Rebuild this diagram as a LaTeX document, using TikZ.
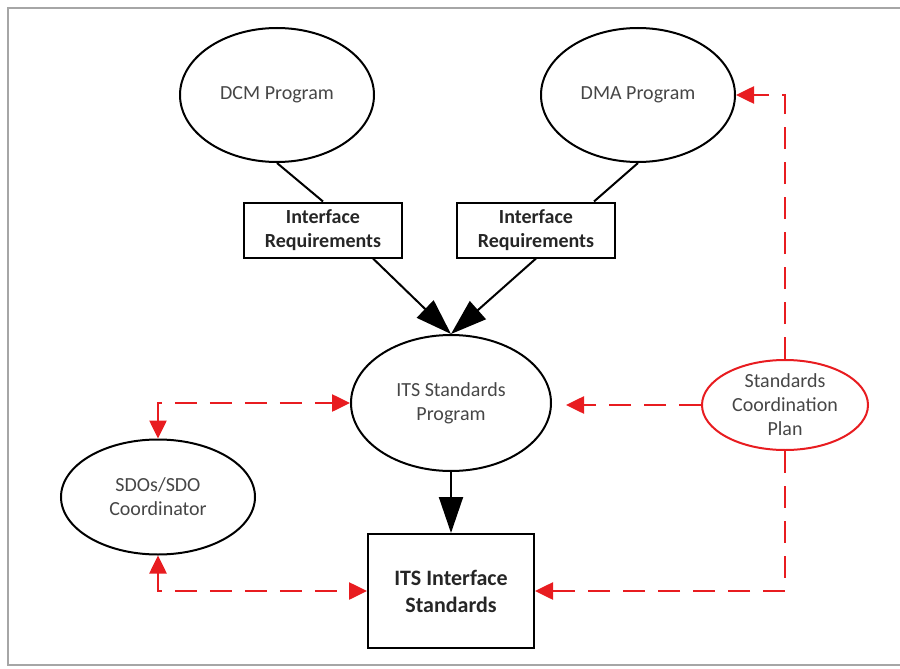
\documentclass[tikz,border=0pt]{standalone}
\usepackage{fontspec}
\setmainfont{Carlito}
\usetikzlibrary{shapes.geometric,arrows.meta,calc}
\definecolor{redline}{RGB}{232,28,32}
\definecolor{txtgray}{RGB}{70,70,70}
\tikzset{rtip/.tip={Triangle[length=18pt,width=17pt,fill=redline]}}
\begin{document}
\begin{tikzpicture}[x=1pt,y=-1pt,
  oval/.style={ellipse,draw=black,line width=2pt,inner sep=0pt,align=center,
    font=\fontsize{20}{24}\selectfont,text=txtgray},
  redoval/.style={oval,draw=redline},
  reqbox/.style={rectangle,draw=black,line width=2pt,align=center,inner sep=0pt,
    font=\bfseries\fontsize{20}{24}\selectfont,text=black!85},
  blk/.style={line width=2pt,-{Triangle[length=36pt,width=24pt]}},
  conn/.style={line width=2pt},
  reddash/.style={draw=redline,line width=2.6pt,dash pattern=on 22pt off 13pt}
]
\useasboundingbox (0,0) rectangle (900,669);
\draw[line width=2pt,draw=black!35] (920,8) -- (8,8) -- (8,665) -- (920,665);

\node[oval,minimum width=194pt,minimum height=134pt] (dcm) at (277,95) {DCM Program};
\node[oval,minimum width=194pt,minimum height=134pt] (dma) at (638,95) {DMA Program};
\node[reqbox,minimum width=158pt,minimum height=55pt] (box1) at (323,230) {Interface\\Requirements};
\node[reqbox,minimum width=158pt,minimum height=55pt] (box2) at (536,230) {Interface\\Requirements};
\node[oval,minimum width=200pt,minimum height=136pt] (its) at (451,403) {ITS Standards\\Program};
\node[oval,minimum width=194pt,minimum height=115pt] (sdo) at (158,497) {SDOs/SDO\\Coordinator};
\node[reqbox,minimum width=166pt,minimum height=114pt,font=\bfseries\fontsize{22}{27}\selectfont] (std) at (451,591) {ITS Interface\\Standards};
\node[redoval,minimum width=166pt,minimum height=90pt] (scp) at (785,405) {Standards\\Coordination\\Plan};

\draw[conn] (dcm.south) -- (box1.north);
\draw[conn] (dma.south) -- ([xshift=-22pt]box2.north east);
\draw[blk] ([xshift=50pt]box1.south) -- (its.north);
\draw[blk] (box2.south) -- (its.north);
\draw[blk] (its.south) -- (std.north);

\draw[reddash,-rtip] (scp.north) |- (dma.east);
\draw[reddash,-rtip] (scp.west) -- ($(its.east)+(14,2)$);
\draw[reddash,-rtip] (scp.south) |- (std.east);
\draw[reddash,rtip-rtip] (sdo.north) |- (its.west);
\draw[reddash,rtip-rtip] (sdo.south) |- (std.west);
\end{tikzpicture}
\end{document}
